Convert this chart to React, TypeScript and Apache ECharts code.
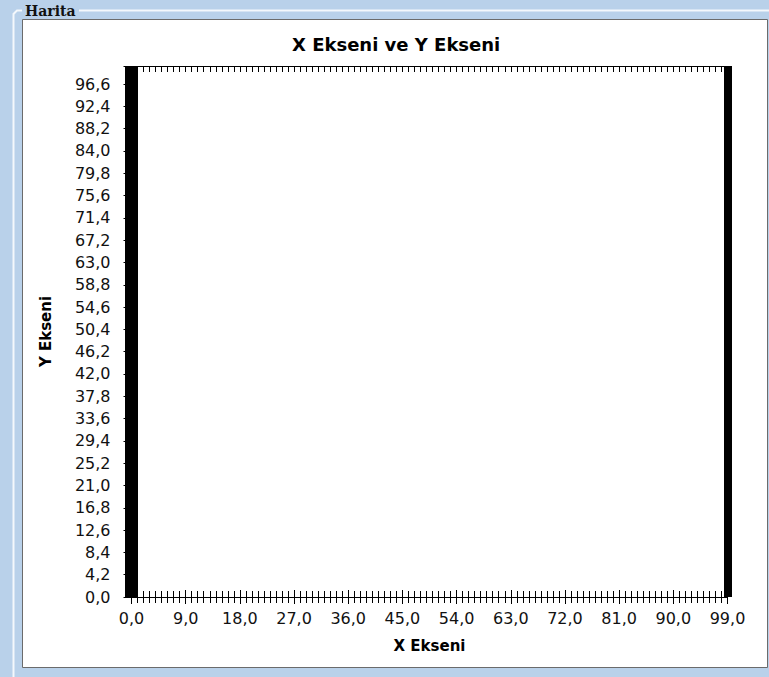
import React, { useEffect, useRef } from 'react';
import * as echarts from 'echarts';

// ---- chart content ----
const panelTitle = 'Harita';
const chartTitle = 'X Ekseni ve Y Ekseni';
const xAxisName = 'X Ekseni';
const yAxisName = 'Y Ekseni';

const xRange = [0, 99];
const xLabelStep = 9; // labels 0,0 9,0 ... 99,0
const xMinorPerStep = 9; // one small tick per unit
const yRange = [0, 100];
const yLabelStep = 4.2; // labels 0,0 4,2 ... 96,6

const seriesPoints: [number, number][] = []; // the map is empty

const FONT = 'DejaVu Sans';
const TEXT_COLOR = '#111111';

const fmt = (v: number) => v.toFixed(1).replace('.', ',');
const yFmt = (v: number) => {
  const k = v / yLabelStep;
  return Math.abs(k - Math.round(k)) < 1e-6 ? fmt(v) : '';
};

export default function App() {
  const ref = useRef<HTMLDivElement>(null);

  useEffect(() => {
    if (!ref.current) return;
    const chart = echarts.init(ref.current, undefined, { renderer: 'svg' });

    const black = { color: '#000', width: 1, cap: 'butt' };

    const option: any = {
      animation: false,
      backgroundColor: '#b9d1ea',
      title: {
        text: chartTitle,
        left: 292,
        top: 35,
        padding: 0,
        textStyle: { fontFamily: FONT, fontWeight: 'bold', fontSize: 18, color: '#000' },
      },
      grid: { left: 131.5, top: 66, width: 596, height: 531, containLabel: false },
      xAxis: [
        {
          type: 'value',
          position: 'bottom',
          min: xRange[0],
          max: xRange[1],
          interval: xLabelStep,
          name: xAxisName,
          nameLocation: 'middle',
          nameGap: 41,
          nameTextStyle: { fontFamily: FONT, fontWeight: 'bold', fontSize: 15, color: '#000' },
          axisLine: { show: true, onZero: false, lineStyle: black },
          axisTick: { show: true, length: 7, lineStyle: black },
          minorTick: { show: true, splitNumber: xMinorPerStep, length: 6, lineStyle: black },
          axisLabel: { formatter: fmt, fontFamily: FONT, fontSize: 16, color: TEXT_COLOR, margin: 13 },
          splitLine: { show: false },
          minorSplitLine: { show: false },
        },
        {
          type: 'value',
          position: 'bottom',
          min: xRange[0],
          max: xRange[1],
          interval: xLabelStep,
          axisLine: { show: false, onZero: false },
          axisTick: { show: true, inside: true, length: 7, lineStyle: black },
          minorTick: { show: true, splitNumber: xMinorPerStep, length: 6, lineStyle: black },
          axisLabel: { show: false },
          splitLine: { show: false },
        },
        {
          type: 'value',
          position: 'top',
          min: xRange[0],
          max: xRange[1],
          interval: xLabelStep,
          axisLine: { show: true, onZero: false, lineStyle: black },
          axisTick: { show: true, inside: true, length: 6, lineStyle: black },
          minorTick: { show: true, splitNumber: xMinorPerStep, length: 6, lineStyle: black },
          axisLabel: { show: false },
          splitLine: { show: false },
        },
      ],
      yAxis: [
        {
          type: 'value',
          position: 'left',
          min: yRange[0],
          max: yRange[1],
          interval: yLabelStep,
          name: yAxisName,
          nameLocation: 'middle',
          nameRotate: 90,
          nameGap: 78,
          nameTextStyle: { fontFamily: FONT, fontWeight: 'bold', fontSize: 15, color: '#000' },
          axisLine: { show: true, onZero: false, lineStyle: { color: '#000', width: 13, cap: 'butt' } },
          axisTick: { show: true, length: 8, lineStyle: black },
          axisLabel: { formatter: yFmt, fontFamily: FONT, fontSize: 16, color: TEXT_COLOR, margin: 21 },
          splitLine: { show: false },
        },
        {
          type: 'value',
          position: 'right',
          min: yRange[0],
          max: yRange[1],
          interval: yLabelStep,
          axisLine: { show: true, onZero: false, lineStyle: { color: '#000', width: 8, cap: 'butt' } },
          axisTick: { show: false },
          axisLabel: { show: false },
          splitLine: { show: false },
        },
      ],
      series: [
        { type: 'scatter', xAxisIndex: 0, yAxisIndex: 0, data: seriesPoints, symbolSize: 4 },
      ],
      graphic: [
        {
          type: 'rect',
          z: -10,
          silent: true,
          shape: { x: 22.5, y: 19.5, width: 745, height: 648 },
          style: { fill: '#ffffff', stroke: '#6b6b6b', lineWidth: 1 },
        },
        {
          type: 'polyline',
          z: -10,
          silent: true,
          shape: { points: [[13.5, 677], [13.5, 14], [17, 10.5], [22, 10.5]] },
          style: { stroke: '#f4f8fc', lineWidth: 2, fill: null },
        },
        {
          type: 'line',
          z: -10,
          silent: true,
          shape: { x1: 79, y1: 10.5, x2: 769, y2: 10.5 },
          style: { stroke: '#f4f8fc', lineWidth: 2 },
        },
        {
          type: 'text',
          z: -5,
          silent: true,
          x: 25,
          y: 4,
          style: {
            text: panelTitle,
            fontFamily: 'DejaVu Serif',
            fontWeight: 'bold',
            fontSize: 14,
            fill: '#111',
          },
        },
      ],
    };

    chart.setOption(option);
    return () => chart.dispose();
  }, []);

  return (
    <div
      ref={ref}
      style={{ position: 'absolute', left: 0, top: 0, width: 769, height: 677 }}
    />
  );
}
